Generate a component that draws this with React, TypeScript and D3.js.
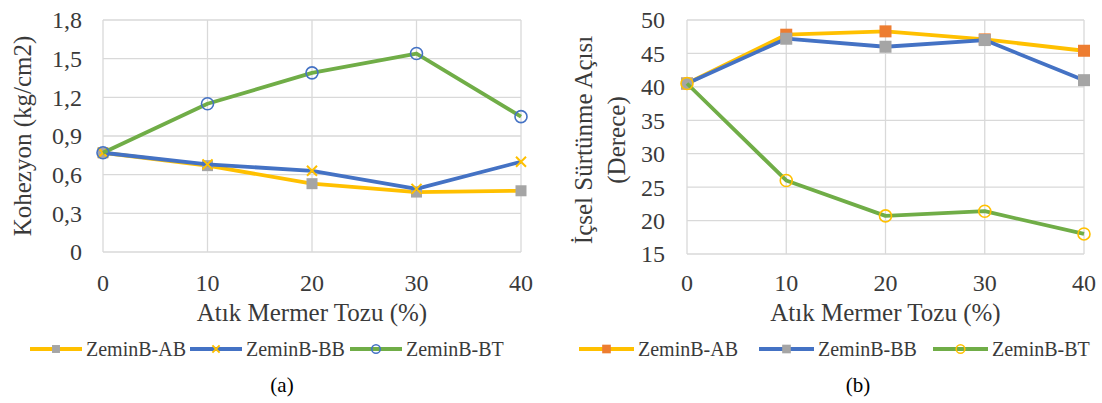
import React from "react";
import * as d3 from "d3";

// x categories (Atık Mermer Tozu %)
const xValues = [0, 10, 20, 30, 40];
const seriesNames = ["ZeminB-AB", "ZeminB-BB", "ZeminB-BT"];

// panel (a) - Kohezyon (kg/cm2)
const kohezyonAB = [0.77, 0.67, 0.53, 0.465, 0.475];
const kohezyonBB = [0.77, 0.68, 0.63, 0.49, 0.7];
const kohezyonBT = [0.77, 1.15, 1.39, 1.54, 1.05];
const kohezyonTicks = [0, 0.3, 0.6, 0.9, 1.2, 1.5, 1.8];

// panel (b) - İçsel Sürtünme Açısı (Derece)
const aciAB = [40.5, 47.8, 48.3, 47.1, 45.4];
const aciBB = [40.5, 47.2, 46.0, 47.0, 41.0];
const aciBT = [40.5, 26.0, 20.7, 21.4, 18.0];
const aciTicks = [15, 20, 25, 30, 35, 40, 45, 50];

const FONT = "Liberation Serif";
const TEXT = "#3a3a3a";
const YELLOW = "#FFC000";
const BLUE = "#4472C4";
const GREEN = "#70AD47";
const GRAY = "#A5A5A5";
const ORANGE = "#ED7D31";
const GRID = "#D9D9D9";

function Marker({ type, color, x, y, s }) {
  if (type === "square") {
    return <rect x={x - s / 2} y={y - s / 2} width={s} height={s} fill={color} />;
  }
  if (type === "x") {
    const h = s / 2;
    return (
      <path
        d={`M${x - h},${y - h}L${x + h},${y + h}M${x - h},${y + h}L${x + h},${y - h}`}
        stroke={color}
        strokeWidth={2}
        fill="none"
      />
    );
  }
  return <circle cx={x} cy={y} r={s / 2} fill="none" stroke={color} strokeWidth={1.6} />;
}

function Panel({ p }) {
  const x = d3.scaleLinear().domain([0, 40]).range([p.left, p.right]);
  const y = d3.scaleLinear().domain(p.domain).range([p.bottom, p.top]);
  const line = d3
    .line()
    .x((d, i) => x(xValues[i]))
    .y((d) => y(d));
  const txt = (size) => ({ fontFamily: FONT, fontSize: size + "px" });

  return (
    <g>
      {p.ticks.map((t) => (
        <line key={"h" + t} x1={p.left} x2={p.right} y1={y(t)} y2={y(t)} stroke={GRID} strokeWidth={1.3} />
      ))}
      {xValues.map((v) => (
        <line key={"v" + v} x1={x(v)} x2={x(v)} y1={p.top} y2={p.bottom} stroke={GRID} strokeWidth={1.3} />
      ))}
      {p.ticks.map((t) => (
        <text key={"yl" + t} x={p.yLabelX} y={y(t)} dy="0.35em" textAnchor="end" fill={TEXT} style={txt(24)}>
          {p.fmt(t)}
        </text>
      ))}
      {xValues.map((v) => (
        <text key={"xl" + v} x={x(v)} y={291} textAnchor="middle" fill={TEXT} style={txt(24)}>
          {v}
        </text>
      ))}
      <text x={(p.left + p.right) / 2} y={321} textAnchor="middle" fill={TEXT} style={txt(25)}>
        Atık Mermer Tozu (%)
      </text>
      {p.yTitle.map((t, i) => (
        <text
          key={t}
          transform={`translate(${p.yTitleX[i]},${p.yTitleY}) rotate(-90)`}
          textAnchor="middle"
          dominantBaseline="central"
          fill={TEXT}
          style={txt(25)}
        >
          {t}
        </text>
      ))}
      {p.series.map((s, si) => (
        <g key={"s" + si}>
          <path d={line(s.values)} fill="none" stroke={s.line} strokeWidth={3.8} strokeLinejoin="round" />
          {s.values.map((v, i) => (
            <Marker key={i} type={s.marker} color={s.markerColor} x={x(xValues[i])} y={y(v)} s={s.size} />
          ))}
        </g>
      ))}
      {p.series.map((s, si) => {
        const lx = p.legendX[si];
        return (
          <g key={"lg" + si}>
            <line x1={lx} x2={lx + p.legendLine} y1={349} y2={349} stroke={s.line} strokeWidth={3.8} />
            <Marker type={s.marker} color={s.markerColor} x={lx + p.legendLine / 2} y={349} s={s.size * 0.72} />
            <text x={lx + p.legendLine + 4} y={349} dy="0.35em" fill={TEXT} style={txt(20)}>
              {seriesNames[si]}
            </text>
          </g>
        );
      })}
      <text x={p.captionX} y={392} textAnchor="middle" fill="#000" style={txt(21)}>
        {p.caption}
      </text>
    </g>
  );
}

const panelA = {
  left: 103,
  right: 521,
  top: 20,
  bottom: 252,
  domain: [0, 1.8],
  ticks: kohezyonTicks,
  fmt: (d) => (d === 0 ? "0" : d3.format(".1f")(d).replace(".", ",")),
  yLabelX: 82,
  yTitle: ["Kohezyon (kg/cm2)"],
  yTitleX: [22],
  yTitleY: 136,
  legendX: [30, 190, 350],
  legendLine: 52,
  captionX: 282,
  caption: "(a)",
  series: [
    { values: kohezyonAB, line: YELLOW, marker: "square", markerColor: GRAY, size: 11 },
    { values: kohezyonBB, line: BLUE, marker: "x", markerColor: YELLOW, size: 10 },
    { values: kohezyonBT, line: GREEN, marker: "circle", markerColor: BLUE, size: 12 },
  ],
};

const panelB = {
  left: 687,
  right: 1084,
  top: 20,
  bottom: 254,
  domain: [15, 50],
  ticks: aciTicks,
  fmt: (d) => String(d),
  yLabelX: 665,
  yTitle: ["İçsel Sürtünme  Açısı", "(Derece)"],
  yTitleX: [583, 616],
  yTitleY: 140,
  legendX: [579, 759, 933],
  legendLine: 55,
  captionX: 858,
  caption: "(b)",
  series: [
    { values: aciAB, line: YELLOW, marker: "square", markerColor: ORANGE, size: 12 },
    { values: aciBB, line: BLUE, marker: "square", markerColor: GRAY, size: 12 },
    { values: aciBT, line: GREEN, marker: "circle", markerColor: YELLOW, size: 12 },
  ],
};

export default function App() {
  return (
    <div style={{ position: "absolute", left: 0, top: 0, background: "#fff" }}>
      <svg width={1102} height={403} style={{ display: "block" }}>
        <Panel p={panelA} />
        <Panel p={panelB} />
      </svg>
    </div>
  );
}
